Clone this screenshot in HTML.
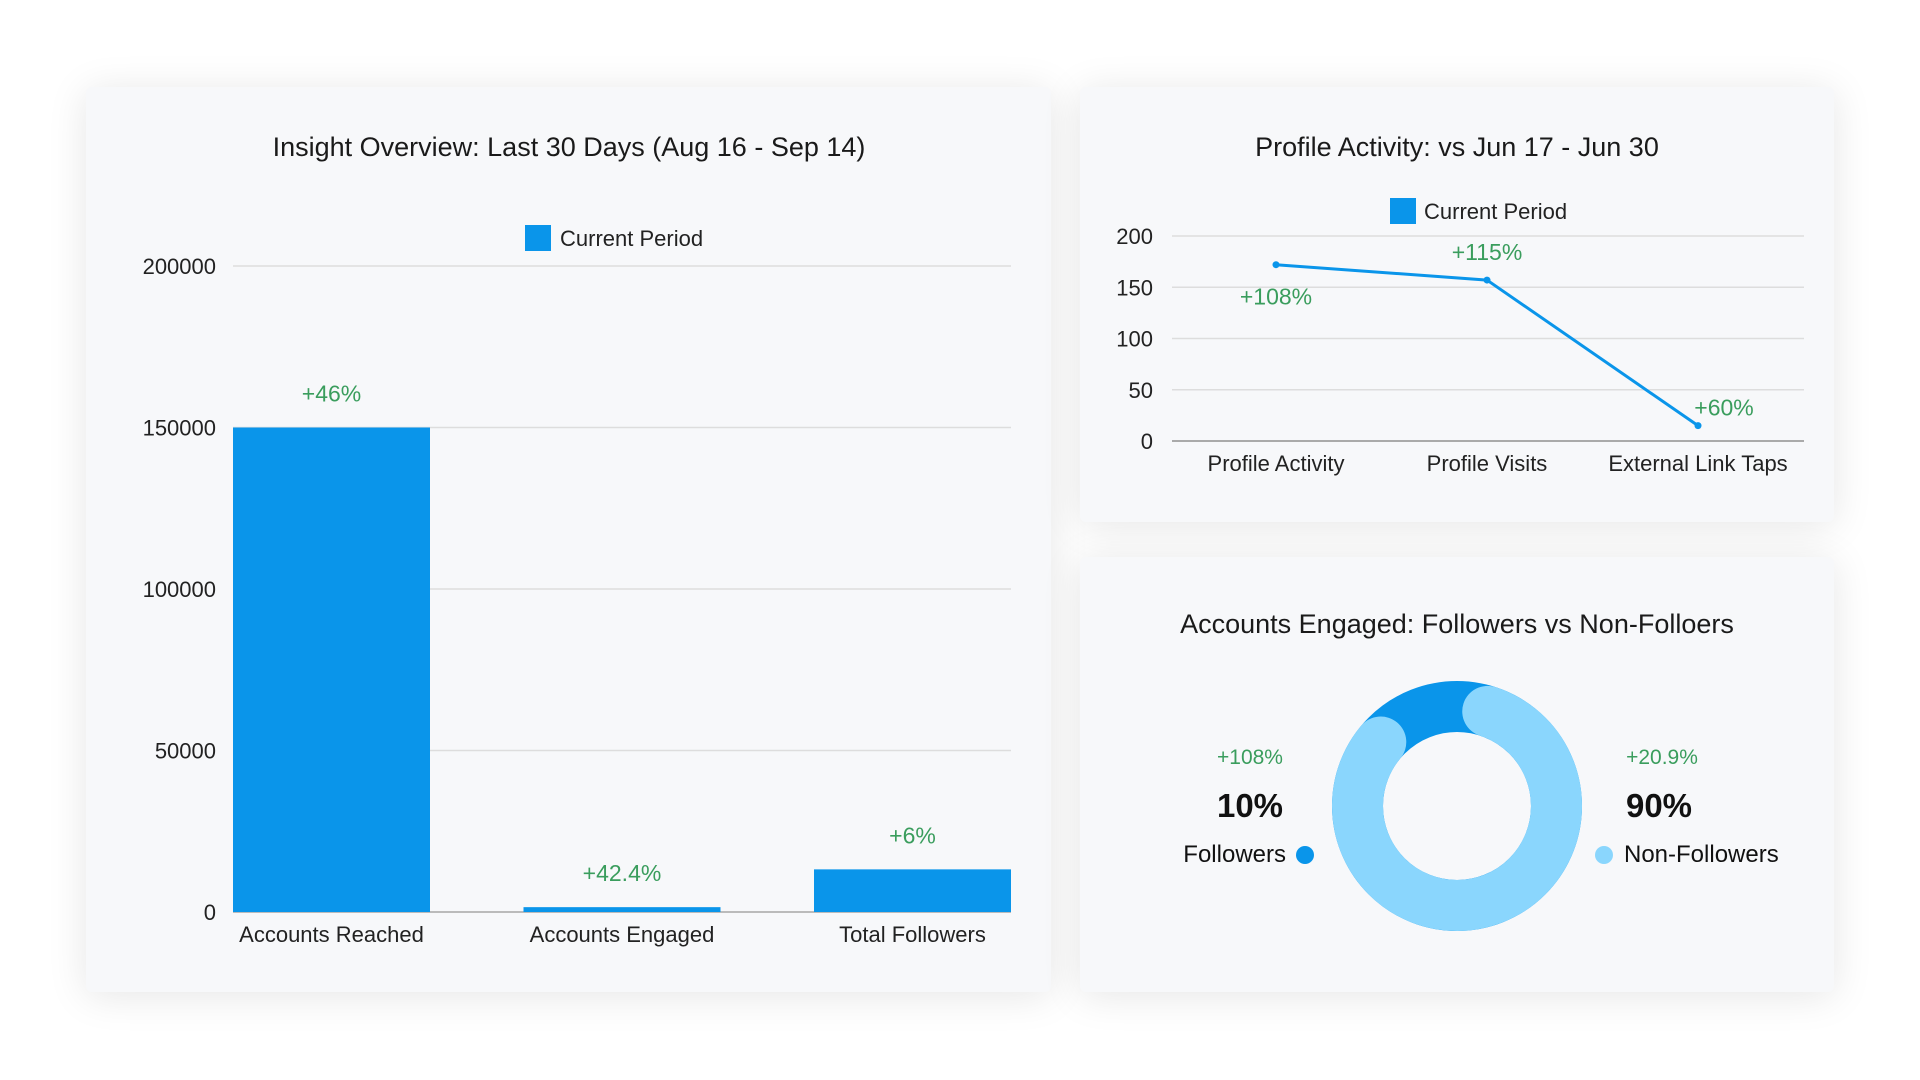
<!DOCTYPE html>
<html><head><meta charset="utf-8"><style>
body{margin:0;width:1920px;height:1080px;background:#fff;font-family:"Liberation Sans",sans-serif;overflow:hidden}
.card{position:absolute;background:#f7f8fa;border-radius:6px;box-shadow:0 4px 40px rgba(0,0,0,0.10)}
svg{position:absolute;left:0;top:0}
text{font-family:"Liberation Sans",sans-serif}
</style></head><body>
<div class="card" style="left:86px;top:87px;width:965px;height:905px"></div>
<div class="card" style="left:1080px;top:87px;width:754px;height:435px"></div>
<div class="card" style="left:1080px;top:557px;width:754px;height:435px"></div>
<svg id="s" width="1920" height="1080"></svg>
<script>
// Bar chart data
const barCats=["Accounts Reached","Accounts Engaged","Total Followers"];
const barVals=[150000,1500,13200];
const barLabels=["+46%","+42.4%","+6%"];
const barTicks=[0,50000,100000,150000,200000];
// Line chart data
const lineCats=["Profile Activity","Profile Visits","External Link Taps"];
const lineVals=[172,157,15];
const lineLabels=["+108%","+115%","+60%"];
const lineTicks=[0,50,100,150,200];
// Donut data
const donutCats=["Followers","Non-Followers"];
const donutVals=[10,90];
const donutChanges=["+108%","+20.9%"];

const S=document.getElementById('s');const NS="http://www.w3.org/2000/svg";
function el(t,a,txt){const e=document.createElementNS(NS,t);for(const k in a)e.setAttribute(k,a[k]);if(txt!==undefined)e.textContent=txt;S.appendChild(e);return e;}
const green="#3a9d5d",blue="#0a95ea",light="#8ad6fd";

// Titles
let t;
t=el('text',{x:569,y:156,'text-anchor':'middle','font-size':27,fill:'#1a1a1a'},"Insight Overview: Last 30 Days (Aug 16 - Sep 14)");

t=el('text',{x:1457,y:156,'text-anchor':'middle','font-size':27,fill:'#1a1a1a'},"Profile Activity: vs Jun 17 - Jun 30");

t=el('text',{x:1457,y:633,'text-anchor':'middle','font-size':27,fill:'#1a1a1a'},"Accounts Engaged: Followers vs Non-Folloers");


// Bar chart
const bx0=233,bx1=1011,by0=912,by1=266,bmax=200000;
const by=v=>by0-(v/bmax)*(by0-by1);
barTicks.forEach(v=>{
  const g=el('line',{x1:bx0,x2:bx1,y1:by(v),y2:by(v),stroke:v===0?'#bbb':'#ddd','stroke-width':v===0?2:1.5});
  
  const l=el('text',{x:216,y:by(v)+8,'text-anchor':'end','font-size':22,fill:'#222'},v);
  
});
const bw=(bx1-bx0)/barCats.length;
barCats.forEach((c,i)=>{
  const x=bx0+i*bw+(i===0?0:(i===1?-1:-0.3))*0;
  const bwid=197, bxs=bx0+i*(bx1-bx0-bwid)/(barCats.length-1);
  const r=el('rect',{x:bxs,y:by(barVals[i]),width:bwid,height:by0-by(barVals[i]),fill:blue});
  
  const lb=el('text',{x:bxs+bwid/2,y:by(barVals[i])-26,'text-anchor':'middle','font-size':23,fill:green},barLabels[i]);
  
  const xl=el('text',{x:bxs+bwid/2,y:942,'text-anchor':'middle','font-size':22,fill:'#222'},c);
  
});
t=el('rect',{x:525,y:225,width:26,height:26,fill:blue});
t=el('text',{x:560,y:246,'font-size':22,fill:'#222'},"Current Period");

// Line chart
const lx0=1172,lx1=1804,ly0=441,ly1=236,lmax=200;
const ly=v=>ly0-(v/lmax)*(ly0-ly1);
const lx=i=>1276+i*211;
lineTicks.forEach(v=>{
  const g=el('line',{x1:lx0,x2:lx1,y1:ly(v),y2:ly(v),stroke:v===0?'#aaa':'#ddd','stroke-width':v===0?2:1.5});
  
  const l=el('text',{x:1153,y:ly(v)+8,'text-anchor':'end','font-size':22,fill:'#222'},v);
  
});
t=el('polyline',{points:lineVals.map((v,i)=>lx(i)+','+ly(v)).join(' '),fill:'none',stroke:blue,'stroke-width':3});

const loff=[[0,40],[0,-20],[26,-10]];
lineCats.forEach((c,i)=>{
  const p=el('circle',{cx:lx(i),cy:ly(lineVals[i]),r:3.5,fill:blue});
  
  const lb=el('text',{x:lx(i)+loff[i][0],y:ly(lineVals[i])+loff[i][1],'text-anchor':'middle','font-size':23,fill:green},lineLabels[i]);
  
  const xl=el('text',{x:lx(i),y:471,'text-anchor':'middle','font-size':22,fill:'#222'},c);
  
});
t=el('rect',{x:1390,y:198,width:26,height:26,fill:blue});
t=el('text',{x:1424,y:219,'font-size':22,fill:'#222'},"Current Period");

// Donut
const cx=1457,cy=806,R=99.5,W=51;
const total=donutVals.reduce((a,b)=>a+b,0);
function pt(a){const r=(a-90)*Math.PI/180;return [cx+R*Math.cos(r),cy+R*Math.sin(r)];}
t=el('circle',{cx:cx,cy:cy,r:R,fill:'none',stroke:blue,'stroke-width':W});

const startA=18;const sweep=donutVals[1]/total*360-32;
const a0=pt(startA),a1=pt(startA+sweep);
t=el('path',{d:`M${a0[0]},${a0[1]} A${R},${R} 0 ${sweep>180?1:0} 1 ${a1[0]},${a1[1]}`,fill:'none',stroke:light,'stroke-width':W,'stroke-linecap':'round'});


t=el('text',{x:1250,y:764,'text-anchor':'middle','font-size':21,fill:green},donutChanges[0]);
t=el('text',{x:1250,y:817,'text-anchor':'middle','font-size':33,'font-weight':'bold',fill:'#111'},Math.round(donutVals[0]/total*100)+'%');
t=el('text',{x:1286,y:862,'text-anchor':'end','font-size':24,fill:'#111'},donutCats[0]);
t=el('circle',{cx:1305,cy:855,r:9,fill:blue});
t=el('text',{x:1662,y:764,'text-anchor':'middle','font-size':21,fill:green},donutChanges[1]);
t=el('text',{x:1659,y:817,'text-anchor':'middle','font-size':33,'font-weight':'bold',fill:'#111'},Math.round(donutVals[1]/total*100)+'%');
t=el('circle',{cx:1604,cy:855,r:9,fill:light});
t=el('text',{x:1624,y:862,'font-size':24,fill:'#111'},donutCats[1]);
</script>
</body></html>
